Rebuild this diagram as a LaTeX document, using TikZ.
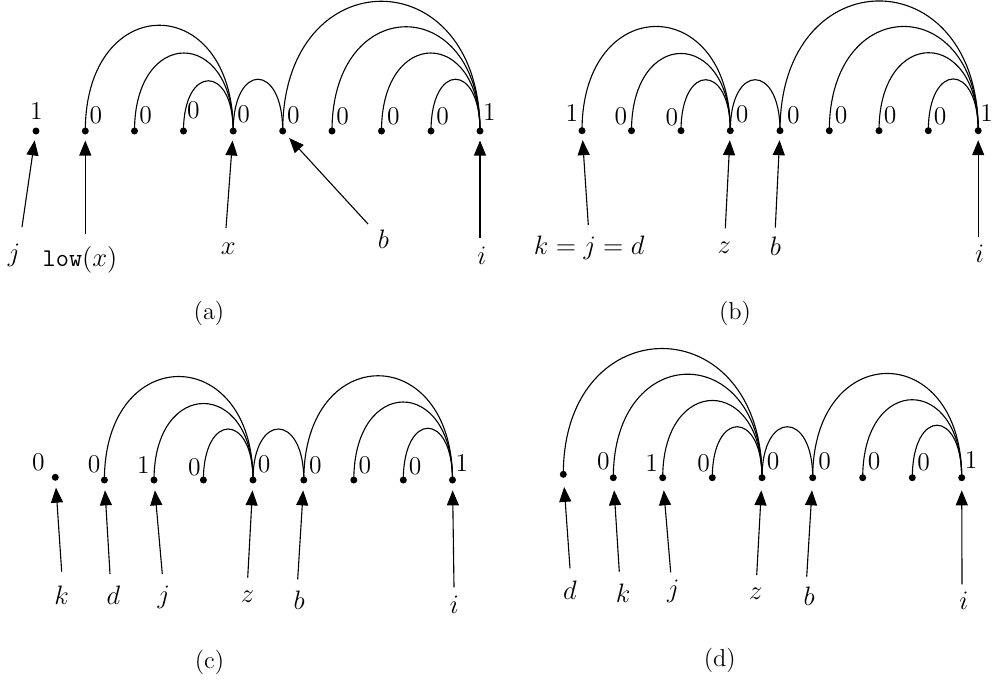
\documentclass[tikz,border=0pt]{standalone}
\usetikzlibrary{arrows.meta}
\begin{document}
\begin{tikzpicture}[x=0.45pt,y=-0.45pt,
  dotnode/.style={circle,fill=black,inner sep=0pt,minimum size=3.15pt},
  num/.style={inner sep=0pt,font=\fontsize{11.5}{13}\selectfont},
  lab/.style={inner sep=0pt,font=\fontsize{11.5}{13}\selectfont},
  captxt/.style={inner sep=0pt,font=\fontsize{11}{12}\selectfont},
  arcline/.style={line width=0.5pt},
  ptr/.style={line width=0.5pt,-{Triangle[length=6.75pt,width=5.4pt]},shorten >=#1},
  ptr/.default=2.5pt
]
\useasboundingbox (0,0) rectangle (996,684);

% ---------------- (a) ----------------
\node[dotnode] (a0) at (36,131) {};
\node[dotnode] (a1) at (85.3,131) {};
\node[dotnode] (a2) at (134.5,131) {};
\node[dotnode] (a3) at (183.5,131) {};
\node[dotnode] (a4) at (233.2,131) {};
\node[dotnode] (a5) at (282.7,131) {};
\node[dotnode] (a6) at (332,131) {};
\node[dotnode] (a7) at (381.5,131) {};
\node[dotnode] (a8) at (431,131) {};
\node[dotnode] (a9) at (480,131) {};
\node[num] (na0) at (36.5,111) {1};
\node[num] (na1) at (96,115.3) {0};
\node[num] (na2) at (145.7,115.3) {0};
\node[num] (na3) at (193.3,110.5) {0};
\node[num] (na4) at (243.7,113.8) {0};
\node[num] (na5) at (293.3,115.3) {0};
\node[num] (na6) at (342.7,115.8) {0};
\node[num] (na7) at (393.3,115.8) {0};
\node[num] (na8) at (442.7,115.8) {0};
\node[num] (na9) at (489.5,112) {1};
\draw[arcline] (a1.center) .. controls +(0,-141) and +(0,-141) .. (a4.center);
\draw[arcline] (a2.center) .. controls +(0,-104) and +(0,-104) .. (a4.center);
\draw[arcline] (a3.center) .. controls +(0,-67) and +(0,-67) .. (a4.center);
\draw[arcline] (a4.center) .. controls +(0,-69) and +(0,-69) .. (a5.center);
\draw[arcline] (a5.center) .. controls +(0,-173) and +(0,-173) .. (a9.center);
\draw[arcline] (a6.center) .. controls +(0,-139) and +(0,-139) .. (a9.center);
\draw[arcline] (a7.center) .. controls +(0,-104) and +(0,-104) .. (a9.center);
\draw[arcline] (a8.center) .. controls +(0,-69) and +(0,-69) .. (a9.center);
\coordinate (sa0) at (22,227);
\coordinate (sa1) at (85.3,234);
\coordinate (sa4) at (226,228);
\coordinate (sa5) at (368,224);
\coordinate (sa9) at (480,238);
\draw[ptr] (sa0) -- (a0);
\draw[ptr] (sa1) -- (a1);
\draw[ptr] (sa4) -- (a4);
\draw[ptr] (sa5) -- (a5);
\draw[ptr] (sa9) -- (a9);
\node[lab] (la0) at (14,255) {$j$};
\node[lab] (la1) at (80,260) {\texttt{low}$(x)$};
\node[lab] (la4) at (228.3,248.3) {$x$};
\node[lab] (la5) at (383.5,239) {$b$};
\node[lab] (la9) at (481.7,256) {$i$};
\node[captxt] (capa) at (209,313) {(a)};

% ---------------- (b) ----------------
\node[dotnode] (b0) at (582,130.7) {};
\node[dotnode] (b1) at (631.5,130.7) {};
\node[dotnode] (b2) at (681,130.7) {};
\node[dotnode] (b3) at (730.3,130.7) {};
\node[dotnode] (b4) at (780,130.7) {};
\node[dotnode] (b5) at (829.3,130.7) {};
\node[dotnode] (b6) at (879,130.7) {};
\node[dotnode] (b7) at (928.3,130.7) {};
\node[dotnode] (b8) at (978.2,130.7) {};
\node[num] (nb0) at (572,113.3) {1};
\node[num] (nb1) at (620.8,115.8) {0};
\node[num] (nb2) at (671.8,117) {0};
\node[num] (nb3) at (742,114) {0};
\node[num] (nb4) at (793.3,115.3) {0};
\node[num] (nb5) at (841,115.3) {0};
\node[num] (nb6) at (890,115.3) {0};
\node[num] (nb7) at (940,116.5) {0};
\node[num] (nb8) at (986.7,112.8) {1};
\draw[arcline] (b0.center) .. controls +(0,-139) and +(0,-139) .. (b3.center);
\draw[arcline] (b1.center) .. controls +(0,-103) and +(0,-103) .. (b3.center);
\draw[arcline] (b2.center) .. controls +(0,-68) and +(0,-68) .. (b3.center);
\draw[arcline] (b3.center) .. controls +(0,-68) and +(0,-68) .. (b4.center);
\draw[arcline] (b4.center) .. controls +(0,-173) and +(0,-173) .. (b8.center);
\draw[arcline] (b5.center) .. controls +(0,-139) and +(0,-139) .. (b8.center);
\draw[arcline] (b6.center) .. controls +(0,-104) and +(0,-104) .. (b8.center);
\draw[arcline] (b7.center) .. controls +(0,-69) and +(0,-69) .. (b8.center);
\coordinate (sb0) at (588.3,225);
\coordinate (sb3) at (725.3,228.3);
\coordinate (sb4) at (775.3,227.7);
\coordinate (sb8) at (978.2,237.3);
\draw[ptr] (sb0) -- (b0);
\draw[ptr] (sb3) -- (b3);
\draw[ptr] (sb4) -- (b4);
\draw[ptr] (sb8) -- (b8);
\node[lab] (lb0) at (589.2,248.3) {$k=j=d$};
\node[lab] (lb3) at (724.2,247.5) {$z$};
\node[lab] (lb4) at (775.5,246.7) {$b$};
\node[lab] (lb8) at (979.5,254.2) {$i$};
\node[captxt] (capb) at (735,313.7) {(b)};

% ---------------- (c) ----------------
\node[dotnode] (c0) at (55.3,477.3) {};
\node[dotnode] (c1) at (104.4,480) {};
\node[dotnode] (c2) at (154,480) {};
\node[dotnode] (c3) at (203.4,480) {};
\node[dotnode] (c4) at (253,480) {};
\node[dotnode] (c5) at (303.8,480) {};
\node[dotnode] (c6) at (353.8,480) {};
\node[dotnode] (c7) at (403.3,480) {};
\node[dotnode] (c8) at (452.5,480) {};
\node[num] (nc0) at (38.3,462.5) {0};
\node[num] (nc1) at (94.2,463.8) {0};
\node[num] (nc2) at (143.3,465) {1};
\node[num] (nc3) at (194.5,467.2) {0};
\node[num] (nc4) at (264.2,464.3) {0};
\node[num] (nc5) at (315.5,465.7) {0};
\node[num] (nc6) at (365,465.7) {0};
\node[num] (nc7) at (415.2,466.7) {0};
\node[num] (nc8) at (462,463.3) {1};
\draw[arcline] (c1.center) .. controls +(0,-138) and +(0,-138) .. (c4.center);
\draw[arcline] (c2.center) .. controls +(0,-102) and +(0,-102) .. (c4.center);
\draw[arcline] (c3.center) .. controls +(0,-68) and +(0,-68) .. (c4.center);
\draw[arcline] (c4.center) .. controls +(0,-68) and +(0,-68) .. (c5.center);
\draw[arcline] (c5.center) .. controls +(0,-139) and +(0,-139) .. (c8.center);
\draw[arcline] (c6.center) .. controls +(0,-104) and +(0,-104) .. (c8.center);
\draw[arcline] (c7.center) .. controls +(0,-69) and +(0,-69) .. (c8.center);
\coordinate (sc0) at (61.7,571.7);
\coordinate (sc1) at (110,574);
\coordinate (sc2) at (162.3,574);
\coordinate (sc4) at (247.7,577.7);
\coordinate (sc5) at (297.7,579.3);
\coordinate (sc8) at (454,587.3);
\draw[ptr=2.9pt] (sc0) -- (c0);
\draw[ptr=2.9pt] (sc1) -- (c1);
\draw[ptr=2.9pt] (sc2) -- (c2);
\draw[ptr=2.9pt] (sc4) -- (c4);
\draw[ptr=2.9pt] (sc5) -- (c5);
\draw[ptr=2.9pt] (sc8) -- (c8);
\node[lab] (lc0) at (61.7,595.5) {$k$};
\node[lab] (lc1) at (113.3,595) {$d$};
\node[lab] (lc2) at (163.7,597.8) {$j$};
\node[lab] (lc4) at (247.5,597) {$z$};
\node[lab] (lc5) at (299.2,600) {$b$};
\node[lab] (lc8) at (454.3,604.5) {$i$};
\node[captxt] (capc) at (209.5,662.5) {(c)};

% ---------------- (d) ----------------
\node[dotnode] (d0) at (563.3,474.3) {};
\node[dotnode] (d1) at (613.3,477.7) {};
\node[dotnode] (d2) at (662.7,477.7) {};
\node[dotnode] (d3) at (712.3,477.7) {};
\node[dotnode] (d4) at (762,477.7) {};
\node[dotnode] (d5) at (812.7,477.7) {};
\node[dotnode] (d6) at (862.7,477.7) {};
\node[dotnode] (d7) at (912.3,477.7) {};
\node[dotnode] (d8) at (961.7,477.7) {};
\node[num] (nd1) at (603.3,461.3) {0};
\node[num] (nd2) at (651.7,462.5) {1};
\node[num] (nd3) at (703.5,462.8) {0};
\node[num] (nd4) at (773,460.8) {0};
\node[num] (nd5) at (824.5,461.7) {0};
\node[num] (nd6) at (874.2,460.8) {0};
\node[num] (nd7) at (923.7,462.5) {0};
\node[num] (nd8) at (971,460) {1};
\draw[arcline] (d0.center) .. controls +(0,-168) and +(0,-172) .. (d4.center);
\draw[arcline] (d1.center) .. controls +(0,-138) and +(0,-138) .. (d4.center);
\draw[arcline] (d2.center) .. controls +(0,-103) and +(0,-103) .. (d4.center);
\draw[arcline] (d3.center) .. controls +(0,-68) and +(0,-68) .. (d4.center);
\draw[arcline] (d4.center) .. controls +(0,-68) and +(0,-68) .. (d5.center);
\draw[arcline] (d5.center) .. controls +(0,-139) and +(0,-139) .. (d8.center);
\draw[arcline] (d6.center) .. controls +(0,-104) and +(0,-104) .. (d8.center);
\draw[arcline] (d7.center) .. controls +(0,-70) and +(0,-70) .. (d8.center);
\coordinate (sd0) at (570,568.3);
\coordinate (sd1) at (619.3,571.7);
\coordinate (sd2) at (670.7,572.3);
\coordinate (sd4) at (756.7,575);
\coordinate (sd5) at (806.7,576.7);
\coordinate (sd8) at (962,584.3);
\draw[ptr=3.9pt] (sd0) -- (d0);
\draw[ptr=3.9pt] (sd1) -- (d1);
\draw[ptr=3.9pt] (sd2) -- (d2);
\draw[ptr=3.9pt] (sd4) -- (d4);
\draw[ptr=3.9pt] (sd5) -- (d5);
\draw[ptr=3.9pt] (sd8) -- (d8);
\node[lab] (ld0) at (570,590) {$d$};
\node[lab] (ld1) at (623,593.3) {$k$};
\node[lab] (ld2) at (673.3,591.7) {$j$};
\node[lab] (ld4) at (755.8,593.3) {$z$};
\node[lab] (ld5) at (809.2,596.7) {$b$};
\node[lab] (ld8) at (963.8,601.2) {$i$};
\node[captxt] (capd) at (719.7,660.5) {(d)};
\end{tikzpicture}
\end{document}
